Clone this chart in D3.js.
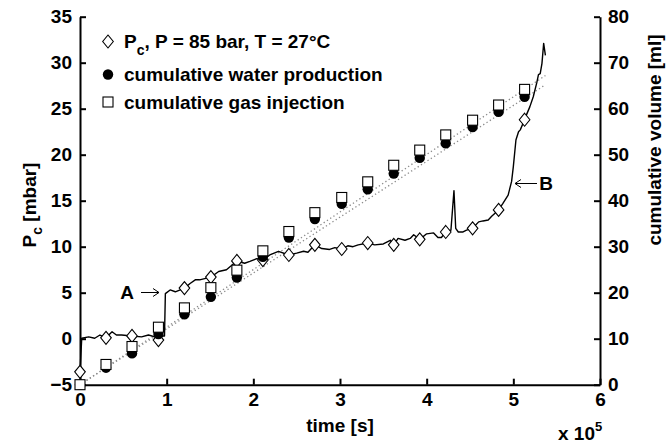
<!DOCTYPE html>
<html>
<head>
<meta charset="utf-8">
<script src="https://cdn.jsdelivr.net/npm/d3@7"></script>
<style>
  body { margin: 0; background: #fff; }
  text { font-family: "Liberation Sans", Arial, sans-serif; font-weight: bold; }
</style>
</head>
<body>
<script>
// size of the picture
const w = 669;
const h = 445;

// sampling times (x 10^5 s) of the markers
const sampleTime = [0, 0.30, 0.60, 0.905, 1.205, 1.51, 1.81, 2.11, 2.41, 2.71, 3.02, 3.32, 3.62, 3.92, 4.22, 4.53, 4.83, 5.13];
// capillary pressure at the markers (mbar)
const pcMarkers = [-3.6, 0.1, 0.3, -0.15, 5.5, 6.7, 8.45, 8.55, 9.1, 10.2, 9.75, 10.4, 10.2, 10.8, 11.6, 12.0, 14.0, 23.8];
// cumulative volumes (ml)
const waterProd = [0, 3.7, 6.8, 11.0, 15.3, 19.1, 23.3, 27.8, 32.0, 36.0, 39.3, 42.5, 45.9, 49.3, 52.5, 56.0, 59.3, 62.6];
const gasInj = [0, 4.4, 8.3, 12.5, 16.7, 21.1, 24.9, 29.1, 33.3, 37.4, 40.7, 44.1, 47.7, 51.0, 54.3, 57.5, 60.8, 64.2];

// continuous Pc record
const pcTime = [0, 0.02, 0.10, 0.17, 0.23, 0.30, 0.37, 0.42, 0.48, 0.60,
  0.71, 0.79, 0.865, 0.905, 0.96, 0.975, 0.985, 1.04, 1.10, 1.205,
  1.27, 1.33, 1.38, 1.51, 1.60, 1.69, 1.81, 1.90, 1.96, 2.04,
  2.11, 2.19, 2.29, 2.41, 2.50, 2.58, 2.63, 2.67, 2.71, 2.79,
  2.88, 2.94, 3.02, 3.09, 3.15, 3.21, 3.32, 3.40, 3.50, 3.58,
  3.62, 3.67, 3.75, 3.81, 3.85, 3.92, 4.00, 4.08, 4.13, 4.17,
  4.22, 4.28, 4.315, 4.335, 4.365, 4.42, 4.46, 4.53, 4.60, 4.65,
  4.71, 4.75, 4.83, 4.88, 4.94, 4.98, 5.00, 5.03, 5.06, 5.08,
  5.13, 5.15, 5.19, 5.23, 5.27, 5.29, 5.31, 5.33, 5.35, 5.37];
const pcValue = [-3.6, 0.05, 0.2, 0.05, 0.4, 0.1, 0.75, 0.4, 0.4, 0.3,
  0.2, 0.4, 0.2, 0.0, 0.3, 0.3, 4.9, 5.3, 5.1, 5.5,
  6.0, 6.4, 6.4, 6.7, 7.3, 7.5, 8.45, 8.2, 8.4, 8.7,
  8.55, 9.1, 9.5, 9.1, 9.3, 9.5, 9.4, 9.8, 10.2, 9.8,
  9.7, 9.9, 9.75, 10.1, 10.0, 10.2, 10.4, 10.2, 10.3, 10.7,
  10.2, 10.9, 10.7, 10.9, 11.3, 10.8, 11.4, 11.5, 11.0, 11.0,
  11.6, 11.8, 16.1, 12.0, 11.6, 11.6, 11.8, 12.0, 12.7, 12.8,
  12.9, 13.3, 14.0, 14.7, 15.6, 17.1, 18.7, 21.6, 22.5, 22.7,
  23.8, 24.3, 25.2, 26.3, 27.8, 28.7, 28.8, 29.9, 32.1, 30.8];

// dotted trend lines (ml)
const fitTime = [0, 5.37];
const gasFit = [0, 67.2];
const waterFit = [0, 65.2];

// ticks
const xTicks = [0, 1, 2, 3, 4, 5, 6];
const yLeftTicks = [-5, 0, 5, 10, 15, 20, 25, 30, 35];
const yRightTicks = [0, 10, 20, 30, 40, 50, 60, 70, 80];

const legendLabels = ["cumulative water production", "cumulative gas injection"];

const padL = 80, padR = 600, padT = 16.7, padB = 384.7;

const x = d3.scaleLinear().domain([0, 6]).range([padL, padR]);
const yL = d3.scaleLinear().domain([-5, 35]).range([padB, padT]);
const yR = d3.scaleLinear().domain([0, 80]).range([padB, padT]);

const svg = d3.select("body").append("svg").attr("width", w).attr("height", h);

// axes, ticks pointing inside
const fs = 19;
function styleAxis(g) {
  g.selectAll(".domain").attr("stroke", "#000").attr("stroke-width", 2);
  g.selectAll(".tick line").attr("stroke", "#000").attr("stroke-width", 2);
  g.selectAll(".tick text").attr("fill", "#000").attr("font-size", fs + "px")
    .attr("font-family", "Liberation Sans, Arial, sans-serif").attr("font-weight", "bold");
}

svg.append("g").attr("transform", `translate(0,${padB})`)
  .call(d3.axisBottom(x).tickValues(xTicks).tickFormat(d3.format("d"))
    .tickSizeInner(-6).tickSizeOuter(0).tickPadding(8))
  .call(styleAxis);

svg.append("g").attr("transform", `translate(${padL},0)`)
  .call(d3.axisLeft(yL).tickValues(yLeftTicks).tickFormat(d => d < 0 ? "\u2212" + (-d) : d)
    .tickSizeInner(-6).tickSizeOuter(0).tickPadding(8))
  .call(styleAxis);

svg.append("g").attr("transform", `translate(${padR},0)`)
  .call(d3.axisRight(yR).tickValues(yRightTicks).tickFormat(d3.format("d"))
    .tickSizeInner(-6).tickSizeOuter(0).tickPadding(8))
  .call(styleAxis);

// dotted trend lines
const fitLine = d3.line().x((d, i) => x(fitTime[i])).y(d => yR(d));
[gasFit, waterFit].forEach(f => {
  svg.append("path").attr("d", fitLine(f))
    .attr("fill", "none").attr("stroke", "#8a8a8a").attr("stroke-width", 1.3)
    .attr("stroke-dasharray", "1.3,2.6");
});

// Pc record
const pcLine = d3.line().x((d, i) => x(pcTime[i])).y(d => yL(d));
svg.append("path").attr("d", pcLine(pcValue))
  .attr("fill", "none").attr("stroke", "#000").attr("stroke-width", 1.4)
  .attr("stroke-linejoin", "round");

const diamond = "M0,-6.5L5.3,0L0,6.5L-5.3,0Z";
svg.selectAll(".dia").data(pcMarkers).enter().append("path")
  .attr("class", "dia")
  .attr("d", diamond)
  .attr("transform", (d, i) => `translate(${x(sampleTime[i])},${yL(d)})`)
  .attr("fill", "#fff").attr("stroke", "#000").attr("stroke-width", 1.1);

svg.selectAll(".water").data(waterProd).enter().append("circle")
  .attr("class", "water")
  .attr("cx", (d, i) => x(sampleTime[i]))
  .attr("cy", d => yR(d))
  .attr("r", 5.2)
  .attr("fill", "#000");

svg.selectAll(".gas").data(gasInj).enter().append("rect")
  .attr("class", "gas")
  .attr("x", (d, i) => x(sampleTime[i]) - 5)
  .attr("y", d => yR(d) - 5)
  .attr("width", 10).attr("height", 10)
  .attr("fill", "#fff").attr("stroke", "#000").attr("stroke-width", 1.1);

// axis titles
svg.append("text").attr("x", (padL + padR) / 2).attr("y", 432)
  .attr("text-anchor", "middle").attr("font-size", fs + "px").text("time [s]");

const xe = svg.append("text").attr("x", 558).attr("y", 440).attr("font-size", fs + "px");
xe.append("tspan").text("x 10");
xe.append("tspan").attr("dy", -9).attr("font-size", "13px").text("5");

const yt = svg.append("text").attr("transform", "translate(36,205) rotate(-90)")
  .attr("text-anchor", "middle").attr("font-size", fs + "px");
yt.append("tspan").text("P");
yt.append("tspan").attr("dy", 6).attr("font-size", "14px").text("c");
yt.append("tspan").attr("dy", -6).text(" [mbar]");

svg.append("text").attr("transform", "translate(661,140) rotate(-90)")
  .attr("text-anchor", "middle").attr("font-size", fs + "px").text("cumulative volume [ml]");

// legend
const lx = 108, tx = 124;
const rows = [41.5, 74.5, 102];
svg.append("path").attr("d", diamond).attr("transform", `translate(${lx},${rows[0]})`)
  .attr("fill", "#fff").attr("stroke", "#000").attr("stroke-width", 1.1);
svg.append("circle").attr("cx", lx).attr("cy", rows[1]).attr("r", 5.2).attr("fill", "#000");
svg.append("rect").attr("x", lx - 5).attr("y", rows[2] - 5).attr("width", 10).attr("height", 10)
  .attr("fill", "#fff").attr("stroke", "#000").attr("stroke-width", 1.1);

const l1 = svg.append("text").attr("x", tx).attr("y", rows[0] + 6.5).attr("font-size", fs + "px");
l1.append("tspan").text("P");
l1.append("tspan").attr("dy", 7).attr("font-size", "14px").text("c");
l1.append("tspan").attr("dy", -7).text(", P = 85 bar, T = 27°C");

legendLabels.forEach((t, i) => {
  svg.append("text").attr("x", tx).attr("y", rows[i + 1] + 6.5)
    .attr("font-size", fs + "px").text(t);
});

// annotations A and B
const arrow = (x1, x2, yy) => {
  const dir = x2 > x1 ? 1 : -1;
  svg.append("path")
    .attr("d", `M${x1},${yy}L${x2},${yy}M${x2 - dir * 6},${yy - 4}L${x2},${yy}L${x2 - dir * 6},${yy + 4}`)
    .attr("fill", "none").attr("stroke", "#000").attr("stroke-width", 1);
};
svg.append("text").attr("x", 127).attr("y", 299).attr("text-anchor", "middle")
  .attr("font-size", fs + "px").text("A");
arrow(141, 159, 292.5);
svg.append("text").attr("x", 546).attr("y", 190).attr("text-anchor", "middle")
  .attr("font-size", fs + "px").text("B");
arrow(537, 515, 183.5);
</script>
</body>
</html>
